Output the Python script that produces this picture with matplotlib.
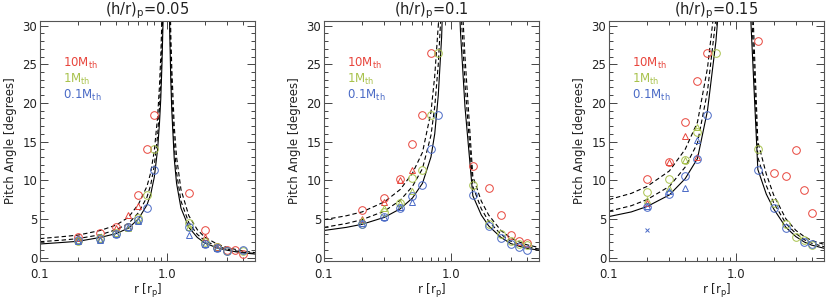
# Pitch angle of spiral arms vs. radius for three disc aspect ratios
import numpy as np
import matplotlib.pyplot as plt
from matplotlib.ticker import FixedLocator, NullFormatter, MultipleLocator

nan = np.nan

titles = ["(h/r)$_\\mathrm{p}$=0.05", "(h/r)$_\\mathrm{p}$=0.1", "(h/r)$_\\mathrm{p}$=0.15"]
labels = ["10M$_\\mathrm{th}$", "1M$_\\mathrm{th}$", "0.1M$_\\mathrm{th}$"]

# radii of the measured points
r_pts = [0.2, 0.3, 0.4, 0.5, 0.6, 0.7, 0.8, 1.5, 2.0, 2.5, 3.0, 3.5, 4.0]

# panel 1, (h/r)p = 0.05
p1_red_circ = [2.7, 3.2, 3.9, 4.0, 8.1, 14.0, 18.4, 8.3, 3.5, 1.3, 1.0, 1.0, 0.5]
p1_red_tri = [2.5, 2.4, 3.8, 5.5, 6.7, nan, nan, nan, 2.6, 1.3, nan, nan, nan]
p1_grn_circ = [2.2, 2.5, 3.2, 3.9, 5.1, 8.1, 14.0, 4.5, 2.0, 1.3, 0.9, nan, 0.8]
p1_grn_tri = [2.3, 2.4, 3.2, 3.8, 4.9, nan, nan, 4.0, 1.8, 1.2, nan, nan, nan]
p1_blu_circ = [2.3, 2.4, 3.1, 4.0, 4.8, 6.4, 11.3, 4.0, 1.8, 1.2, 0.8, nan, 1.0]
p1_blu_tri = [2.2, 2.3, 3.0, 3.9, 4.7, nan, nan, 2.9, 1.7, 1.2, nan, nan, nan]

# panel 2, (h/r)p = 0.1
p2_red_circ = [6.1, 7.7, 10.1, 14.7, 18.4, 26.5, nan, 11.9, 9.0, 5.5, 2.9, 2.1, 1.9]
p2_red_tri = [5.0, 7.2, 10.0, 11.3, nan, nan, nan, nan, nan, nan, nan, nan, nan]
p2_grn_circ = [4.4, 5.9, 7.1, 10.3, 11.3, 18.4, 26.5, 9.4, 4.4, 3.0, 2.2, 1.8, 1.6]
p2_grn_tri = [4.8, 6.4, 7.0, 8.6, nan, nan, nan, nan, nan, nan, nan, nan, nan]
p2_blu_circ = [4.4, 5.3, 6.4, 7.9, 9.4, 14.0, 18.4, 8.1, 4.1, 2.5, 1.8, 1.4, 1.0]
p2_blu_tri = [4.5, 5.3, 6.6, 7.2, nan, nan, nan, nan, nan, nan, nan, nan, nan]

# panel 3, (h/r)p = 0.15
p3_red_circ = [10.2, 12.4, 17.5, 22.8, 26.5, nan, nan, 28.0, 10.9, 10.6, 13.9, 8.7, 5.7]
p3_red_tri = [7.0, 12.4, 15.7, 13.0, nan, nan, nan, nan, nan, nan, nan, nan, nan]
p3_grn_circ = [8.5, 10.1, 12.6, 16.2, nan, 26.5, nan, 14.0, 7.1, 4.3, 2.7, 2.3, 1.6]
p3_grn_tri = [7.4, 9.0, 12.6, 16.9, nan, nan, nan, nan, nan, nan, nan, nan, nan]
p3_blu_circ = [6.6, 8.2, 10.5, 12.8, 18.4, nan, nan, 11.3, 6.4, 3.8, nan, 2.0, 1.7]
p3_blu_tri = [6.7, 8.6, 9.0, 15.2, nan, nan, nan, nan, nan, nan, nan, nan, nan]
p3_blu_x = [3.5, nan, nan, nan, nan, nan, nan, nan, nan, nan, nan, nan, nan]

# theory curves (inner and outer branch)
r_left = [0.1, 0.15, 0.2, 0.3, 0.4, 0.5, 0.6, 0.7, 0.75, 0.8, 0.85, 0.88, 0.9, 0.92, 0.94, 0.96]
r_right = [1.04, 1.06, 1.08, 1.1, 1.15, 1.2, 1.3, 1.5, 1.75, 2.0, 2.5, 3.0, 3.5, 4.0, 5.0]

p1_solid_l = [1.75, 1.95, 2.1, 2.6, 3.1, 3.8, 5.0, 6.8, 8.2, 10.4, 14.0, 17.5, 20.5, 25.0, 31.0, 40.0]
p1_dash1_l = [2.05, 2.25, 2.45, 2.95, 3.6, 4.4, 5.8, 7.8, 9.4, 11.9, 15.8, 19.5, 22.8, 27.5, 34.0, 43.0]
p1_dash2_l = [2.45, 2.7, 2.9, 3.5, 4.2, 5.2, 6.9, 9.2, 11.0, 13.8, 18.2, 22.3, 26.0, 31.0, 38.0, 46.0]
p1_solid_r = [40, 29, 23, 19.0, 12.8, 9.6, 6.4, 3.9, 2.6, 1.9, 1.25, 0.95, 0.75, 0.6, 0.45]
p1_dash1_r = [43, 32, 25.5, 21.3, 14.5, 11.0, 7.3, 4.5, 3.0, 2.2, 1.45, 1.1, 0.87, 0.7, 0.52]
p1_dash2_r = [46, 36, 29, 24.5, 17, 13, 8.8, 5.4, 3.6, 2.65, 1.75, 1.3, 1.05, 0.85, 0.63]

p2_solid_l = [3.5, 3.9, 4.3, 5.2, 6.3, 7.7, 9.6, 13.0, 16.0, 21.0, 28.5, 36, 42, 50, 60, 70]
p2_dash1_l = [3.9, 4.4, 4.9, 6.0, 7.4, 9.2, 11.5, 15.8, 19.5, 25.0, 33, 40, 46, 54, 63, 72]
p2_dash2_l = [4.9, 5.4, 5.9, 7.2, 8.8, 10.9, 13.6, 18.8, 23.5, 30, 38, 45, 51, 58, 66, 74]
p2_solid_r = [70, 60, 52, 46, 36, 29, 19.5, 8.0, 5.5, 4.1, 2.6, 1.8, 1.45, 1.2, 0.95]
p2_dash1_r = [74, 64, 56, 50, 40, 33, 22.5, 9.2, 6.3, 4.7, 3.0, 2.1, 1.7, 1.4, 1.1]
p2_dash2_r = [78, 68, 60, 54, 44, 37, 26, 10.5, 7.3, 5.5, 3.5, 2.5, 2.0, 1.65, 1.3]

p3_solid_l = [5.3, 5.9, 6.6, 8.1, 10.2, 12.8, 19.0, 28.0, 34, 42, 50, 55, 60, 65, 70, 75]
p3_dash1_l = [6.0, 6.7, 7.5, 9.2, 11.7, 14.8, 21.5, 31, 37, 45, 53, 58, 63, 68, 72, 77]
p3_dash2_l = [7.5, 8.3, 9.2, 11.2, 14.0, 17.5, 24.5, 34, 40, 48, 56, 61, 66, 70, 74, 79]
p3_solid_r = [90, 85, 80, 75, 60, 50, 33, 11.4, 8.2, 6.3, 3.9, 2.7, 2.0, 1.6, 1.2]
p3_dash1_r = [92, 87, 82, 77, 63, 53, 37, 13.0, 9.3, 7.1, 4.4, 3.1, 2.3, 1.85, 1.4]
p3_dash2_r = [94, 89, 84, 79, 66, 56, 42, 15.0, 10.8, 8.1, 5.0, 3.5, 2.7, 2.2, 1.7]

red = "#e8453c"
grn = "#a8c24c"
blu = "#4a6ac6"
txt = "#222222"

panels = [
    (p1_red_circ, p1_red_tri, p1_grn_circ, p1_grn_tri, p1_blu_circ, p1_blu_tri, None,
     p1_solid_l, p1_dash1_l, p1_dash2_l, p1_solid_r, p1_dash1_r, p1_dash2_r),
    (p2_red_circ, p2_red_tri, p2_grn_circ, p2_grn_tri, p2_blu_circ, p2_blu_tri, None,
     p2_solid_l, p2_dash1_l, p2_dash2_l, p2_solid_r, p2_dash1_r, p2_dash2_r),
    (p3_red_circ, p3_red_tri, p3_grn_circ, p3_grn_tri, p3_blu_circ, p3_blu_tri, p3_blu_x,
     p3_solid_l, p3_dash1_l, p3_dash2_l, p3_solid_r, p3_dash1_r, p3_dash2_r),
]

fig = plt.figure(figsize=(8.3, 2.99), dpi=100)
lefts = [40, 324, 609]

for i, pan in enumerate(panels):
    rc, rt, gc, gt, bc, bt, bx, sl, d1l, d2l, sr, d1r, d2r = pan
    ax = fig.add_axes([lefts[i] / 830, 38 / 299, 215 / 830, 240 / 299])
    ax.set_xscale("log")

    # curves
    ax.plot(r_left, sl, color="k", lw=0.8)
    ax.plot(r_right, sr, color="k", lw=0.8)
    for d in (d1l, d2l):
        ax.plot(r_left, d, color="k", lw=0.8, ls=(0, (4, 2.5)))
    for d in (d1r, d2r):
        ax.plot(r_right, d, color="k", lw=0.8, ls=(0, (4, 2.5)))

    # measured points
    kw = dict(ls="none", mfc="none", mew=0.7)
    ax.plot(r_pts, rc, marker="o", ms=5.5, mec=red, **kw)
    ax.plot(r_pts, rt, marker="^", ms=4.5, mec=red, **kw)
    ax.plot(r_pts, gc, marker="o", ms=5.5, mec=grn, **kw)
    ax.plot(r_pts, gt, marker="^", ms=4.5, mec=grn, **kw)
    ax.plot(r_pts, bc, marker="o", ms=5.5, mec=blu, **kw)
    ax.plot(r_pts, bt, marker="^", ms=4.5, mec=blu, **kw)
    if bx is not None:
        ax.plot(r_pts, bx, marker="x", ms=3.5, mec=blu, **kw)

    ax.set_xlim(0.1, 5.0)
    ax.set_ylim(-0.45, 30.6)
    ax.xaxis.set_major_locator(FixedLocator([0.1, 1.0]))
    ax.set_xticklabels(["0.1", "1.0"])
    ax.xaxis.set_minor_locator(FixedLocator([0.2, 0.3, 0.4, 0.5, 0.6, 0.7, 0.8, 0.9, 2, 3, 4, 5]))
    ax.xaxis.set_minor_formatter(NullFormatter())
    ax.yaxis.set_major_locator(MultipleLocator(5))
    ax.yaxis.set_minor_locator(MultipleLocator(1))
    ax.tick_params(which="both", direction="in", top=True, right=True,
                   colors="#444444", labelcolor=txt, labelsize=8.5, width=0.7)
    ax.tick_params(which="major", length=6)
    ax.tick_params(which="minor", length=3)
    ax.tick_params(axis="x", pad=5)
    ax.tick_params(axis="y", pad=2)
    for s in ax.spines.values():
        s.set_color("#555555")
        s.set_linewidth(0.8)

    ax.set_title(titles[i], fontsize=10.5, color=txt, pad=3)
    ax.set_xlabel("r [r$_\\mathrm{p}$]", fontsize=8.5, color=txt, labelpad=1)
    ax.yaxis.set_label_coords(-0.105, 0.5)
    ax.set_ylabel("Pitch Angle [degrees]", fontsize=8.5, color=txt)

    for j, (lab, c) in enumerate(zip(labels, [red, grn, blu])):
        ax.text(0.105, 0.825 - j * 0.068, lab, color=c, fontsize=8.5,
                transform=ax.transAxes, ha="left", va="center")

fig.savefig("out.png", dpi=100)
